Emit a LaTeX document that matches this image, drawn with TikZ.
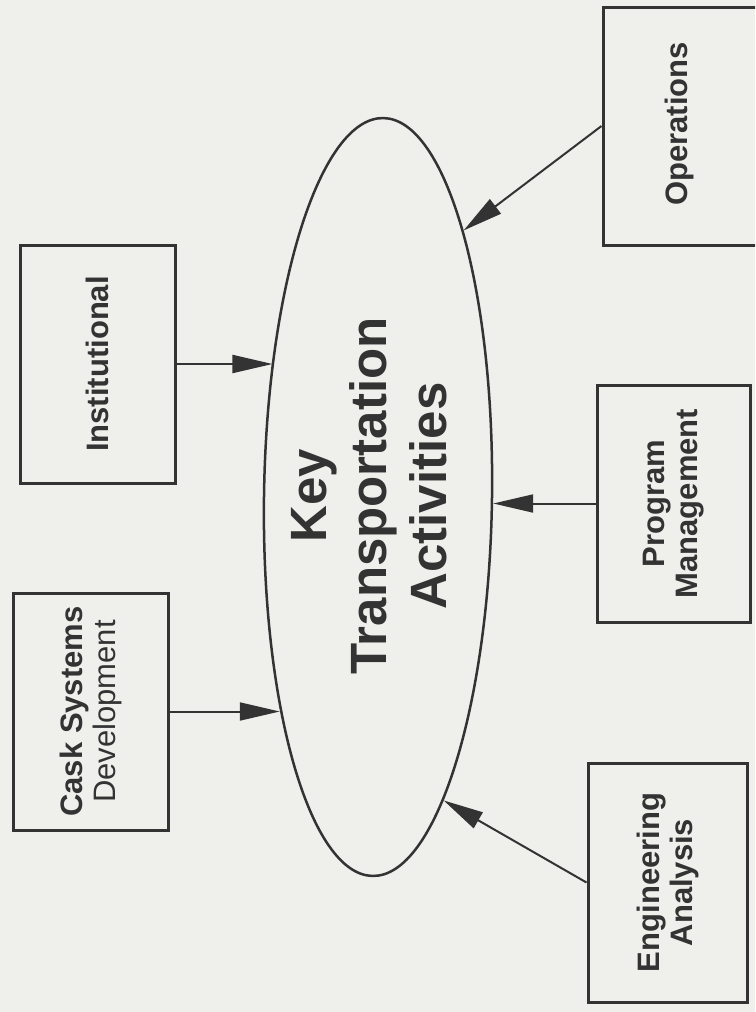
\documentclass[tikz,border=0pt]{standalone}
\usepackage{fontspec}
\setmainfont{Liberation Sans}
\usetikzlibrary{arrows.meta,shapes.geometric}
\definecolor{bg}{HTML}{EFEFEC}
\definecolor{ink}{HTML}{333333}
\begin{document}
\begin{tikzpicture}[x=1pt,y=-1pt,
  box/.style={draw=ink, line width=3pt, rectangle, inner sep=0pt},
  lbl/.style={rotate=90, align=center, text=ink, inner sep=0pt,
              font=\fontsize{31}{33}\selectfont\bfseries},
  arr/.style={draw=ink, line width=2pt, -{Triangle[length=40pt,width=18pt]}}]
\fill[bg] (0,0) rectangle (755,1012);
\useasboundingbox (0,0) rectangle (755,1012);
\clip (0,0) rectangle (755,1012);

% boxes
\node[box, minimum width=155pt, minimum height=238pt] (inst) at (97.5,364) {};
\node[box, minimum width=155pt, minimum height=237pt] (cask) at (90.5,711.5) {};
\node[box, minimum width=159pt, minimum height=238pt] (ops)  at (682.5,126) {};
\node[box, minimum width=153pt, minimum height=237pt] (pm)   at (673.5,503.5) {};
\node[box, minimum width=159pt, minimum height=239pt] (ea)   at (667.5,882.5) {};

% labels
\node[lbl] (instL) at (inst.center) {Institutional};
\node[lbl] (caskL) at (cask.center) {Cask Systems\\\mdseries Development};
\node[lbl] (opsL)  at (679,124) {Operations};
\node[lbl] (pmL)   at (pm.center) {Program\\Management};
\node[lbl] (eaL)   at (ea.center) {Engineering\\Analysis};

% central ellipse
\node[draw=ink, line width=2.5pt, ellipse, minimum width=228pt, minimum height=758pt,
      inner sep=0pt, rotate=-0.8] (ell) at (378,497) {};
\node[rotate=90, align=center, text=ink, inner sep=0pt,
      font=\fontsize{51}{60}\selectfont\bfseries] (kta) at (369,496)
      {Key\\Transportation\\Activities};

% connectors
\draw[arr] (inst.east) -- (ell.128.8 |- inst.east);
\draw[arr] (cask.east) -- (ell.246.3 |- cask.east);
\draw[arr] (ops.west) -- (ell.73.8);
\draw[arr] (pm.west) -- (pm.west -| ell.east);
\draw[arr] (ea.west) -- (ell.283.7);
\end{tikzpicture}
\end{document}
